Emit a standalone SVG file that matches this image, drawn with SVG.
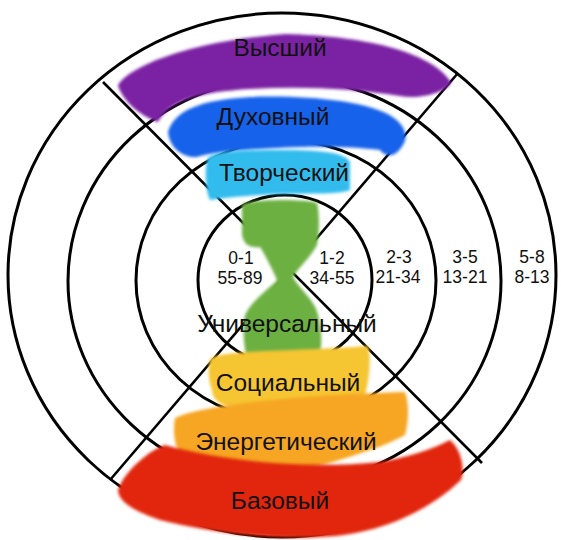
<svg xmlns="http://www.w3.org/2000/svg" width="561" height="540" viewBox="0 0 561 540">
<defs>
<filter id="soft" x="-10%" y="-10%" width="120%" height="120%"><feGaussianBlur stdDeviation="1.6"/></filter>
<style>
.ring{fill:none;stroke:#000;stroke-width:3}
.div{stroke:#000;stroke-width:2.6;fill:none}
.big{font-family:"Liberation Sans",Arial,sans-serif;font-size:24.5px;fill:#111;text-anchor:middle}
.num{font-family:"Liberation Sans",Arial,sans-serif;font-size:17.5px;fill:#111;text-anchor:middle}
.band{filter:url(#soft)}
</style>
</defs>
<rect width="561" height="540" fill="#fff"/>
<g id="connectors">
<ellipse class="ring" cx="282" cy="275" rx="274" ry="262"/>
<ellipse class="ring" cx="284.5" cy="281" rx="216.5" ry="203"/>
<ellipse class="ring" cx="286" cy="280.5" rx="150" ry="140"/>
<ellipse class="ring" cx="285" cy="280" rx="87" ry="85"/>
<line class="div" x1="103" y1="82" x2="482" y2="463"/>
<line class="div" x1="458" y1="73" x2="110" y2="480"/>
</g>
<g id="bands">
<path class="band" fill="#7a22a3" d="M118,86 C125,70 180,42 286,34 C360,36 430,50 451,82 C448,92 420,100 400,96 C350,88 300,86 250,89 C200,92 170,100 158,122 C145,118 125,105 118,86 Z"/>
<path class="band" fill="#1462ea" d="M168,132 C175,110 200,100 250,97 C300,95 370,100 394,118 C404,125 408,135 404,143 C398,155 388,160 380,150 C360,147 322,146 300,147 C250,149 210,152 197,157 C185,158 170,150 168,132 Z"/>
<path class="band" fill="#33bcee" d="M207,160 C210,152 230,150 280,150 C320,150 345,152 350,162 L350,190 C340,195 300,193 280,194 C250,195 220,198 210,200 C205,190 205,170 207,160 Z"/>
<path class="band" fill="#6db043" d="M242,205 C245,200 300,198 317,203 C320,215 319,235 317,245 C310,258 298,268 293,277 C300,290 315,300 318,315 C322,330 322,345 320,352 C300,360 270,362 250,365 C244,355 242,330 245,315 C252,300 268,290 277,280 C272,268 265,255 260,247 C250,248 244,245 242,235 Z"/>
<path class="band" fill="#f6c531" d="M210,360 C215,350 280,352 368,346 C372,360 368,385 365,395 C330,405 280,402 240,408 C220,408 212,398 212,390 C208,380 208,368 210,360 Z"/>
<path class="band" fill="#f6a623" d="M175,418 C200,405 300,395 405,392 C410,405 408,425 405,435 C380,450 320,465 290,475 C250,478 210,470 190,465 C175,455 172,435 175,418 Z"/>
<path class="band" fill="#e1270d" d="M118,490 C125,470 150,450 165,445 C220,460 300,470 380,462 C420,455 440,445 450,440 C462,450 465,470 461,480 C430,510 380,535 320,537 C260,540 200,530 160,520 C130,510 118,500 118,490 Z"/>
</g>
<g id="n-vysshiy"><text class="big" x="280" y="56">Высший</text></g>
<g id="n-duhovny"><text class="big" x="273" y="125">Духовный</text></g>
<g id="n-tvorch"><text class="big" x="284" y="181">Творческий</text></g>
<g id="n-univ"><text class="big" x="287" y="332">Универсальный</text></g>
<g id="n-soc"><text class="big" x="288" y="391">Социальный</text></g>
<g id="n-energ"><text class="big" x="286" y="450">Энергетический</text></g>
<g id="n-baz"><text class="big" x="280" y="509">Базовый</text></g>
<g id="n-c1"><text class="num" x="241" y="264">0-1</text><text class="num" x="240" y="284">55-89</text></g>
<g id="n-c2"><text class="num" x="332" y="264">1-2</text><text class="num" x="332" y="284">34-55</text></g>
<g id="n-c3"><text class="num" x="399" y="263">2-3</text><text class="num" x="398" y="283">21-34</text></g>
<g id="n-c4"><text class="num" x="465" y="263">3-5</text><text class="num" x="465" y="283">13-21</text></g>
<g id="n-c5"><text class="num" x="532" y="263">5-8</text><text class="num" x="532" y="283">8-13</text></g>
</svg>
